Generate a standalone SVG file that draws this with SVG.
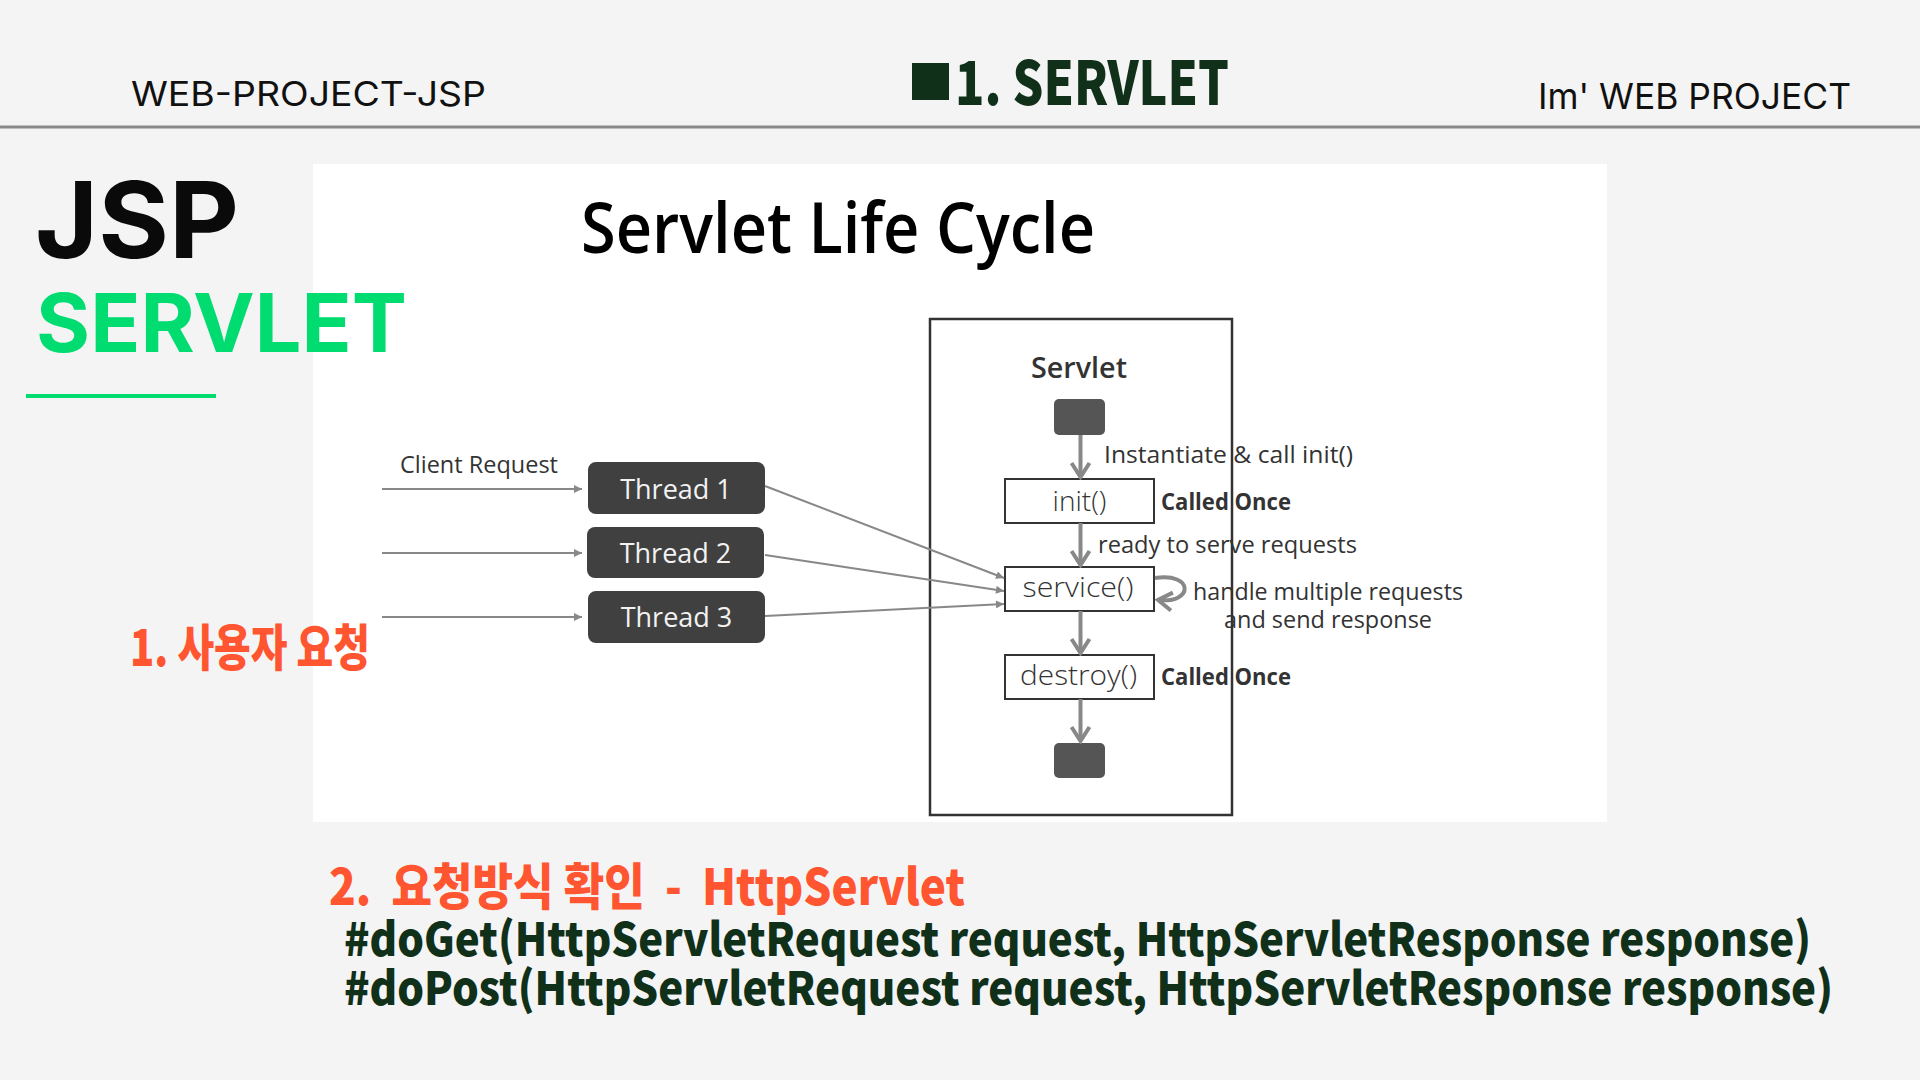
<svg xmlns="http://www.w3.org/2000/svg" width="1920" height="1080" viewBox="0 0 1920 1080">
  <style>
    .hdr { font-family: Inter, "Liberation Sans", sans-serif; font-weight: 400; fill: #111; }
    .head { font-family: "Noto Sans CJK KR", "Noto Sans", sans-serif; font-weight: 900; }
    .green-dark { fill: #10301a; }
    .orange { fill: #ff5530; }
    .diag { font-family: "Open Sans", "Noto Sans", sans-serif; fill: #333; }
    .title { font-family: "Open Sans", "Noto Sans", sans-serif; fill: #000; font-weight: 600; }
    .thread-box { fill: #404040; }
    .thread-text { font-family: "Open Sans", "Noto Sans", sans-serif; font-size: 27px; fill: #f2f2f2; text-anchor: middle; }
    .method-box { fill: #fff; stroke: #333; stroke-width: 2; }
    .method-text { font-family: "Open Sans", "Noto Sans", sans-serif; font-size: 28px; fill: #333; font-weight: 300; }
    .note { font-family: "Open Sans", "Noto Sans", sans-serif; font-size: 24px; fill: #333; font-weight: 400; }
    .once { font-family: "Open Sans", "Noto Sans", sans-serif; font-size: 24px; fill: #333; font-weight: 700; }
    .flow { stroke: #888; stroke-width: 4; fill: none; marker-end: url(#chevron); }
    .req { stroke: #888; stroke-width: 2; fill: none; marker-end: url(#tri); }
    .state { fill: #555; }
  </style>
  <defs>
    <marker id="chevron" viewBox="0 0 22 22" refX="19" refY="11" markerWidth="22" markerHeight="22" markerUnits="userSpaceOnUse" orient="auto">
      <path d="M5,2 L19,11 L5,20" fill="none" stroke="#888" stroke-width="4"/>
    </marker>
    <marker id="tri" viewBox="0 0 10 10" refX="10" refY="5" markerWidth="9" markerHeight="8" markerUnits="userSpaceOnUse" orient="auto">
      <path d="M0,0 L10,5 L0,10 z" fill="#888"/>
    </marker>
  </defs>

  <!-- page background -->
  <rect x="0" y="0" width="1920" height="1080" fill="#f4f4f4"/>

  <!-- header bar -->
  <g id="header">
    <text class="hdr" x="131" y="106" font-size="34" textLength="355" lengthAdjust="spacingAndGlyphs">WEB-PROJECT-JSP</text>
    <rect x="912" y="63" width="37" height="37" fill="#10301a"/>
    <text class="head green-dark" x="955" y="105" font-size="60" textLength="274" lengthAdjust="spacingAndGlyphs">1. SERVLET</text>
    <text class="hdr" x="1538" y="109" font-size="36" font-weight="300" textLength="313" lengthAdjust="spacingAndGlyphs">Im'  WEB PROJECT</text>
    <line x1="0" y1="127" x2="1920" y2="127" stroke="#8a8a8a" stroke-width="3"/>
  </g>

  <!-- section titles -->
  <g id="side-title">
    <text x="35" y="258" font-family="Inter, 'Liberation Sans', sans-serif" font-weight="700" font-size="106" fill="#0a0a0a" textLength="204" lengthAdjust="spacingAndGlyphs">JSP</text>
  </g>

  <!-- diagram panel -->
  <rect x="313" y="164" width="1294" height="658" fill="#ffffff"/>

  <g id="side-subtitle">
    <text x="36" y="352" font-family="Inter, 'Liberation Sans', sans-serif" font-weight="700" font-size="81" fill="#00dc70" textLength="371" lengthAdjust="spacingAndGlyphs">SERVLET</text>
    <line x1="26" y1="396" x2="216" y2="396" stroke="#00dc70" stroke-width="4"/>
  </g>

  <g id="diagram-title">
    <text class="title" x="581" y="253" font-size="71" textLength="514" lengthAdjust="spacingAndGlyphs">Servlet Life Cycle</text>
  </g>

  <!-- servlet container -->
  <g id="servlet">
    <rect x="930" y="319" width="302" height="496" fill="none" stroke="#333" stroke-width="2.5"/>
    <text class="diag" x="1031" y="378" font-size="29" font-weight="600" textLength="96" lengthAdjust="spacingAndGlyphs">Servlet</text>
  </g>

  <g id="start-state">
    <rect class="state" x="1054" y="399" width="51" height="36" rx="5"/>
  </g>

  <g id="init">
    <rect class="method-box" x="1005" y="479" width="149" height="44"/>
    <text class="method-text" x="1079.5" y="511" text-anchor="middle">init()</text>
    <text class="once" x="1161" y="510" textLength="130" lengthAdjust="spacingAndGlyphs">Called Once</text>
  </g>

  <g id="service">
    <rect class="method-box" x="1005" y="567" width="149" height="44"/>
    <text class="method-text" x="1022.5" y="597" textLength="111" lengthAdjust="spacingAndGlyphs">service()</text>
  </g>

  <g id="destroy">
    <rect class="method-box" x="1005" y="655" width="149" height="44"/>
    <text class="method-text" x="1020" y="685" textLength="117" lengthAdjust="spacingAndGlyphs">destroy()</text>
    <text class="once" x="1161" y="685" textLength="130" lengthAdjust="spacingAndGlyphs">Called Once</text>
  </g>

  <g id="end-state">
    <rect class="state" x="1054" y="743" width="51" height="35" rx="5"/>
  </g>

  <!-- worker threads -->
  <g id="thread-1">
    <rect class="thread-box" x="588" y="462" width="177" height="52" rx="8"/>
    <text class="thread-text" x="676" y="499">Thread 1</text>
  </g>
  <g id="thread-2">
    <rect class="thread-box" x="587" y="527" width="177" height="51" rx="8"/>
    <text class="thread-text" x="675.5" y="563">Thread 2</text>
  </g>
  <g id="thread-3">
    <rect class="thread-box" x="588" y="591" width="177" height="52" rx="8"/>
    <text class="thread-text" x="676.5" y="627">Thread 3</text>
  </g>

  <!-- connectors -->
  <g id="connectors">
    <line class="req" x1="382" y1="489" x2="582" y2="489"/>
    <line class="req" x1="382" y1="553" x2="582" y2="553"/>
    <line class="req" x1="382" y1="617" x2="582" y2="617"/>
    <line class="req" x1="765" y1="486" x2="1004" y2="578"/>
    <line class="req" x1="765" y1="555" x2="1004" y2="591"/>
    <line class="req" x1="765" y1="616" x2="1004" y2="604"/>
    <line class="flow" x1="1080.5" y1="435" x2="1080.5" y2="477"/>
    <line class="flow" x1="1080.5" y1="523" x2="1080.5" y2="565"/>
    <line class="flow" x1="1080.5" y1="611" x2="1080.5" y2="653"/>
    <line class="flow" x1="1080.5" y1="699" x2="1080.5" y2="741"/>
    <path class="flow" d="M1155,578 C1194,572 1194,604 1158,600"/>
  </g>

  <!-- connector labels -->
  <g id="labels">
    <text class="note" x="400" y="473" textLength="158" lengthAdjust="spacingAndGlyphs">Client Request</text>
    <text class="note" x="1104" y="463" textLength="249" lengthAdjust="spacingAndGlyphs">Instantiate &amp; call init()</text>
    <text class="note" x="1098" y="553" textLength="259" lengthAdjust="spacingAndGlyphs">ready to serve requests</text>
    <text class="note" x="1193" y="600" textLength="270" lengthAdjust="spacingAndGlyphs">handle multiple requests</text>
    <text class="note" x="1224" y="628" textLength="208" lengthAdjust="spacingAndGlyphs">and send response</text>
  </g>

  <!-- annotations -->
  <g id="step-1">
    <text class="head orange" x="130" y="666" font-size="50" textLength="240" lengthAdjust="spacingAndGlyphs">1. 사용자 요청</text>
  </g>
  <g id="step-2">
    <text class="head orange" x="329" y="905" font-size="50" textLength="636" lengthAdjust="spacingAndGlyphs" xml:space="preserve">2.  요청방식 확인  -  HttpServlet</text>
    <text class="head green-dark" x="344" y="956" font-size="46" textLength="1467" lengthAdjust="spacingAndGlyphs">#doGet(HttpServletRequest request, HttpServletResponse response)</text>
    <text class="head green-dark" x="344" y="1005" font-size="46" textLength="1489" lengthAdjust="spacingAndGlyphs">#doPost(HttpServletRequest request, HttpServletResponse response)</text>
  </g>
</svg>
